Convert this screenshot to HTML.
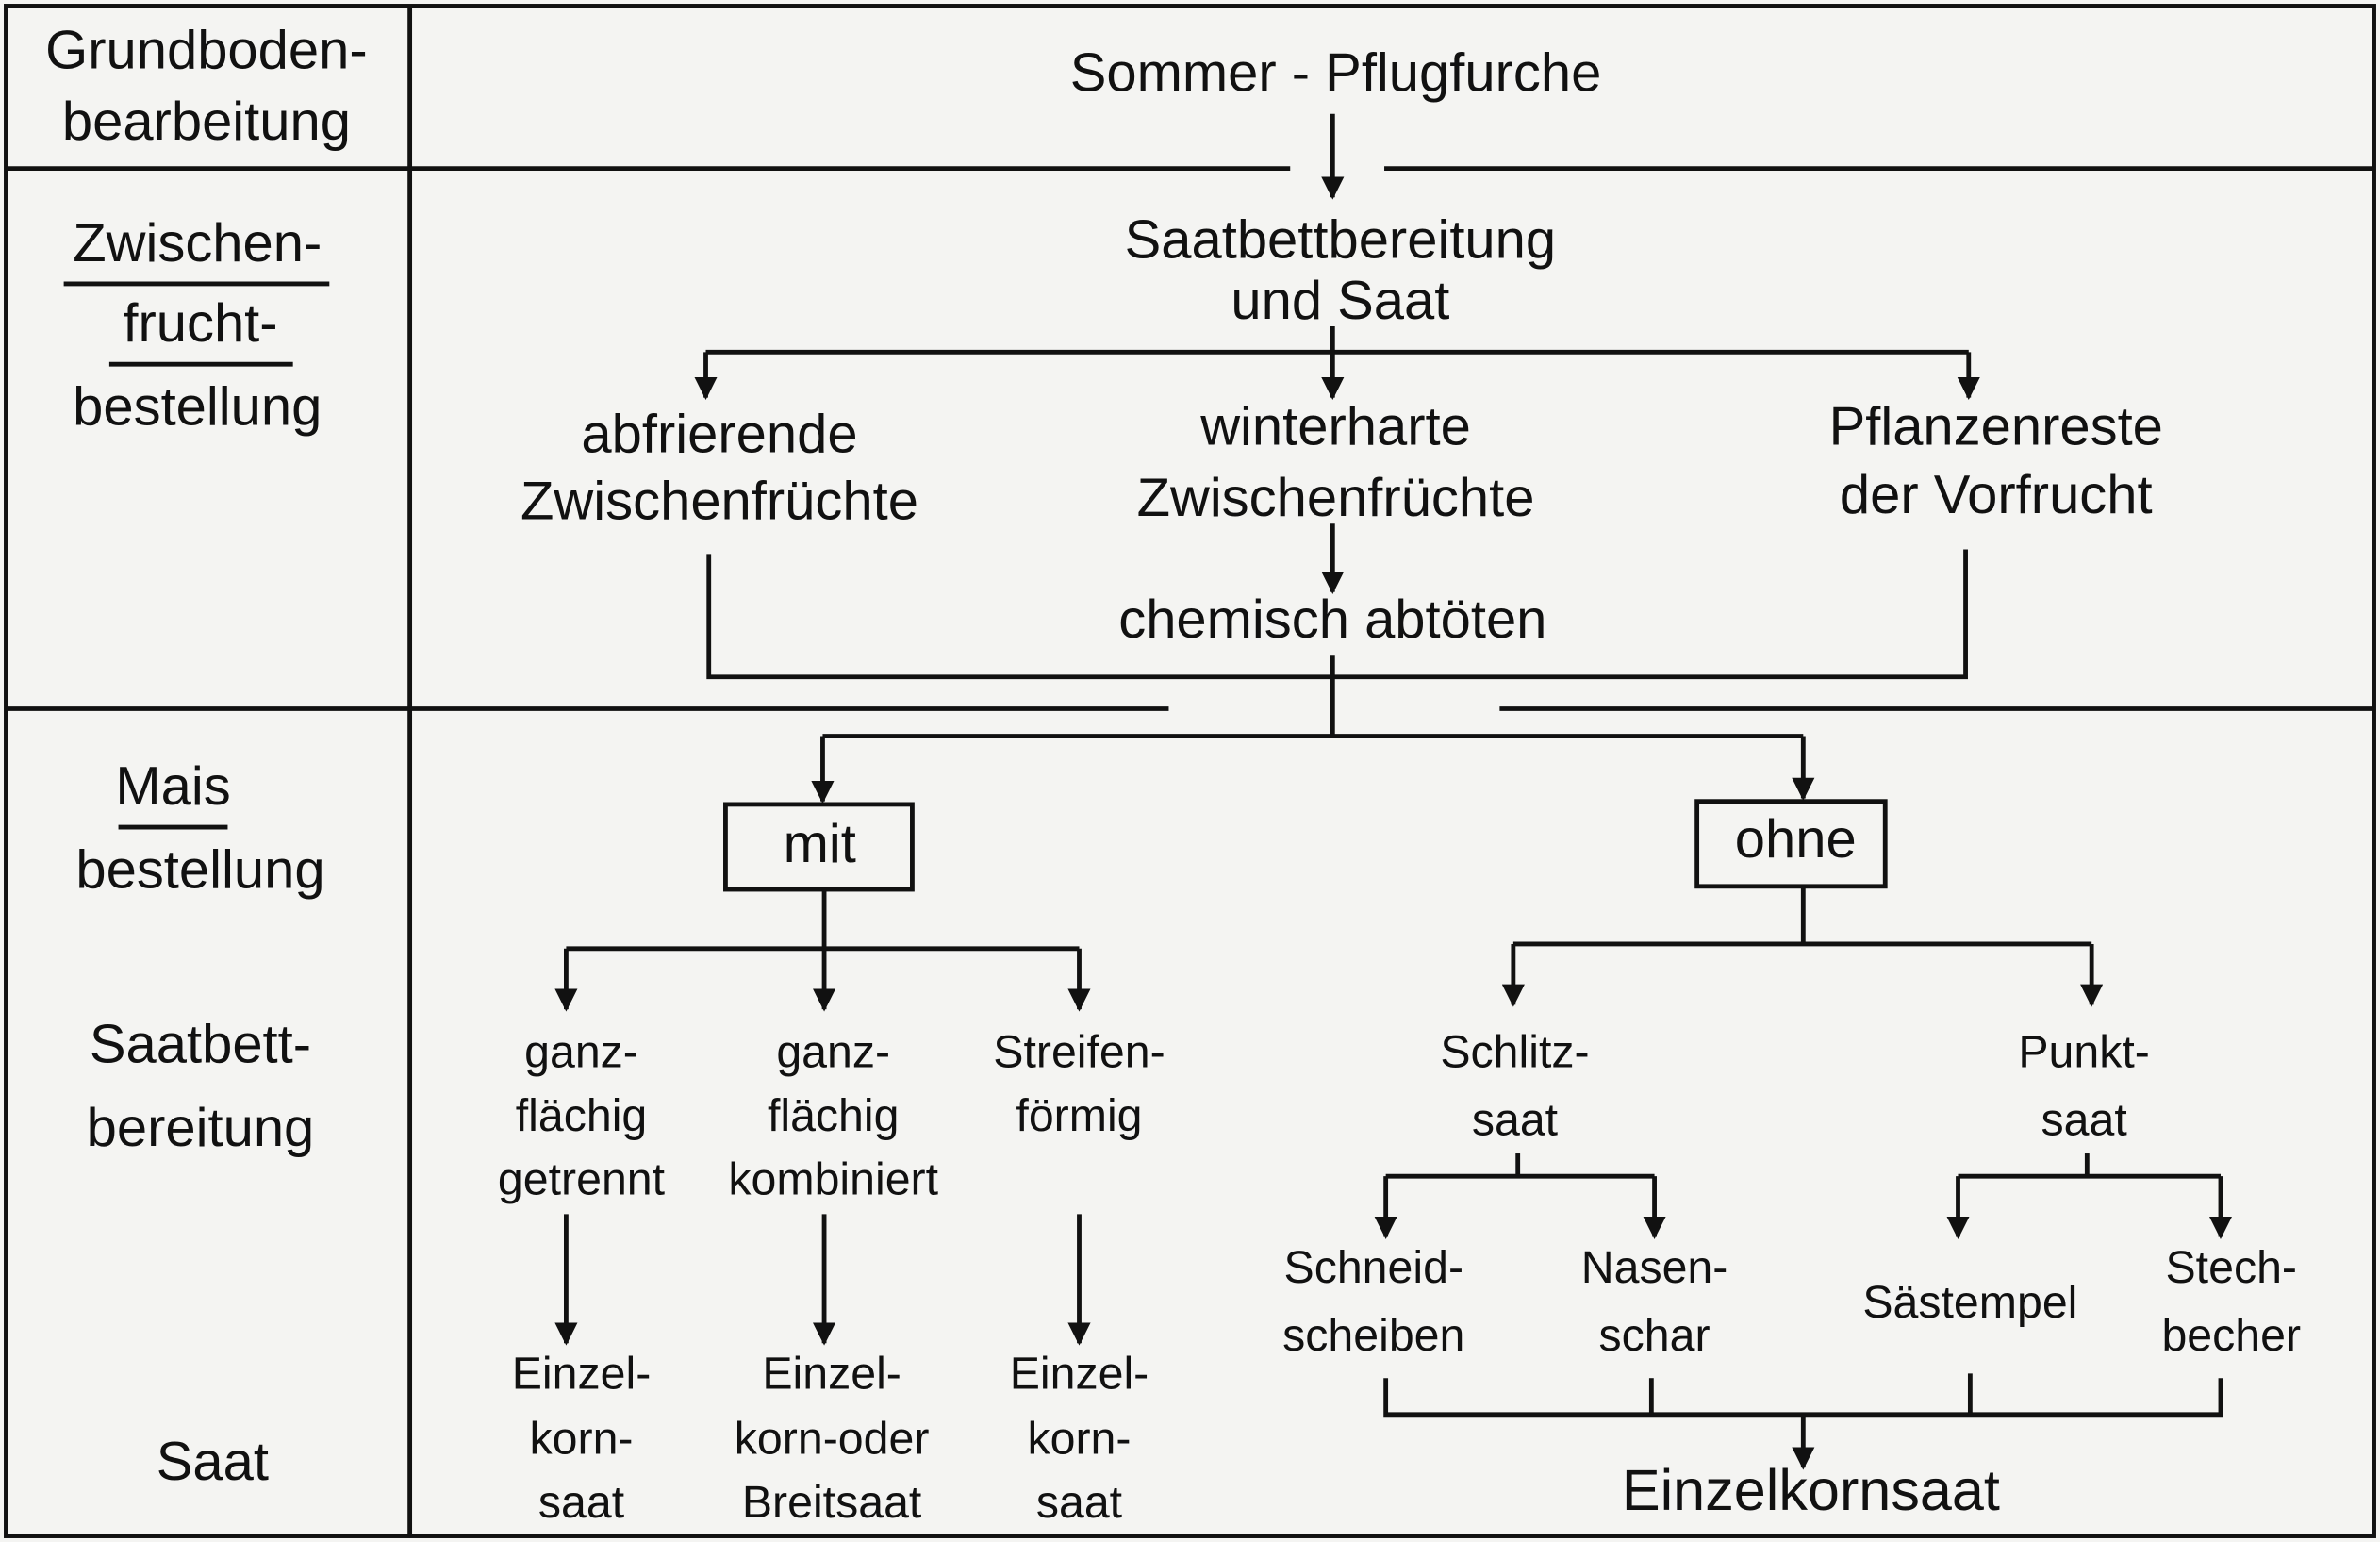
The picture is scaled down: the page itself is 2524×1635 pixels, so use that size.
<!DOCTYPE html>
<html><head><meta charset="utf-8"><style>
html,body{margin:0;padding:0;background:#f4f4f2;}
svg{display:block;}
text{font-family:"Liberation Sans Narrow","Liberation Sans",sans-serif;fill:#111;text-anchor:middle;}
</style></head><body>
<svg width="2524" height="1635" viewBox="0 0 1568 1016" preserveAspectRatio="none" xmlns="http://www.w3.org/2000/svg">
<defs><marker id="a" viewBox="0 0 10 10" refX="9" refY="5" markerWidth="5" markerHeight="5" orient="auto"><path d="M0,0 L10,5 L0,10 z" fill="#111"/></marker></defs>
<rect x="0" y="0" width="1568" height="1016" fill="#f4f4f2"/>
<g stroke="#111" stroke-width="3" fill="none">
<rect x="4" y="4" width="1560" height="1008"/>
<line x1="270" y1="4" x2="270" y2="1012"/>
<line x1="4" y1="111" x2="850" y2="111"/><line x1="912" y1="111" x2="1564" y2="111"/>
<line x1="4" y1="467" x2="770" y2="467"/><line x1="988" y1="467" x2="1564" y2="467"/>
<line x1="42" y1="187" x2="217" y2="187"/><line x1="72" y1="240" x2="193" y2="240"/>
<line x1="78" y1="545" x2="150" y2="545"/>
<line x1="878" y1="75" x2="878" y2="130" marker-end="url(#a)"/>
<line x1="465" y1="232" x2="1297" y2="232"/>
<line x1="465" y1="232" x2="465" y2="262" marker-end="url(#a)"/>
<line x1="878" y1="215" x2="878" y2="262" marker-end="url(#a)"/>
<line x1="1297" y1="232" x2="1297" y2="262" marker-end="url(#a)"/>
<line x1="878" y1="345" x2="878" y2="390" marker-end="url(#a)"/>
<polyline points="467,365 467,446 1295,446 1295,362"/>
<line x1="878" y1="432" x2="878" y2="485"/>
<line x1="542" y1="485" x2="1188" y2="485"/>
<line x1="542" y1="485" x2="542" y2="528" marker-end="url(#a)"/>
<line x1="1188" y1="485" x2="1188" y2="526" marker-end="url(#a)"/>
<rect x="478" y="530" width="123" height="56"/>
<rect x="1118" y="528" width="124" height="56"/>
<line x1="543" y1="586" x2="543" y2="625"/>
<line x1="373" y1="625" x2="711" y2="625"/>
<line x1="373" y1="625" x2="373" y2="665" marker-end="url(#a)"/>
<line x1="543" y1="625" x2="543" y2="665" marker-end="url(#a)"/>
<line x1="711" y1="625" x2="711" y2="665" marker-end="url(#a)"/>
<line x1="373" y1="800" x2="373" y2="885" marker-end="url(#a)"/>
<line x1="543" y1="800" x2="543" y2="885" marker-end="url(#a)"/>
<line x1="711" y1="800" x2="711" y2="885" marker-end="url(#a)"/>
<line x1="1188" y1="584" x2="1188" y2="622"/>
<line x1="997" y1="622" x2="1378" y2="622"/>
<line x1="997" y1="622" x2="997" y2="662" marker-end="url(#a)"/>
<line x1="1378" y1="622" x2="1378" y2="662" marker-end="url(#a)"/>
<line x1="1000" y1="760" x2="1000" y2="775"/>
<line x1="913" y1="775" x2="1090" y2="775"/>
<line x1="913" y1="775" x2="913" y2="815" marker-end="url(#a)"/>
<line x1="1090" y1="775" x2="1090" y2="815" marker-end="url(#a)"/>
<line x1="1375" y1="760" x2="1375" y2="775"/>
<line x1="1290" y1="775" x2="1463" y2="775"/>
<line x1="1290" y1="775" x2="1290" y2="815" marker-end="url(#a)"/>
<line x1="1463" y1="775" x2="1463" y2="815" marker-end="url(#a)"/>
<polyline points="913,908 913,932 1463,932 1463,908"/>
<line x1="1088" y1="908" x2="1088" y2="932"/>
<line x1="1298" y1="905" x2="1298" y2="932"/>
<line x1="1188" y1="932" x2="1188" y2="967" marker-end="url(#a)"/>
</g>
<g font-size="36">
<text x="136" y="45">Grundboden-</text><text x="136" y="92">bearbeitung</text>
<text x="130" y="172">Zwischen-</text><text x="132" y="225">frucht-</text><text x="130" y="280">bestellung</text>
<text x="114" y="530">Mais</text><text x="132" y="585">bestellung</text>
<text x="132" y="700">Saatbett-</text><text x="132" y="755">bereitung</text>
<text x="140" y="975">Saat</text>
<text x="880" y="60">Sommer  -  Pflugfurche</text>
<text x="883" y="170">Saatbettbereitung</text><text x="883" y="210">und Saat</text>
<text x="474" y="298">abfrierende</text><text x="474" y="342">Zwischenfrüchte</text>
<text x="880" y="293">winterharte</text><text x="880" y="340">Zwischenfrüchte</text>
<text x="1315" y="293">Pflanzenreste</text><text x="1315" y="338">der  Vorfrucht</text>
<text x="878" y="420">chemisch  abtöten</text>
<text x="540" y="568">mit</text><text x="1183" y="565">ohne</text>
<text x="1193" y="995" font-size="38">Einzelkornsaat</text>
</g>
<g font-size="30">
<text x="383" y="703">ganz-</text><text x="383" y="745">flächig</text><text x="383" y="787">getrennt</text>
<text x="549" y="703">ganz-</text><text x="549" y="745">flächig</text><text x="549" y="787">kombiniert</text>
<text x="711" y="703">Streifen-</text><text x="711" y="745">förmig</text>
<text x="383" y="915">Einzel-</text><text x="383" y="958">korn-</text><text x="383" y="1000">saat</text>
<text x="548" y="915">Einzel-</text><text x="548" y="958">korn-oder</text><text x="548" y="1000">Breitsaat</text>
<text x="711" y="915">Einzel-</text><text x="711" y="958">korn-</text><text x="711" y="1000">saat</text>
<text x="998" y="703">Schlitz-</text><text x="998" y="748">saat</text>
<text x="1373" y="703">Punkt-</text><text x="1373" y="748">saat</text>
<text x="905" y="845">Schneid-</text><text x="905" y="890">scheiben</text>
<text x="1090" y="845">Nasen-</text><text x="1090" y="890">schar</text>
<text x="1298" y="868">Sästempel</text>
<text x="1470" y="845">Stech-</text><text x="1470" y="890">becher</text>
</g>
</svg>
</body></html>
